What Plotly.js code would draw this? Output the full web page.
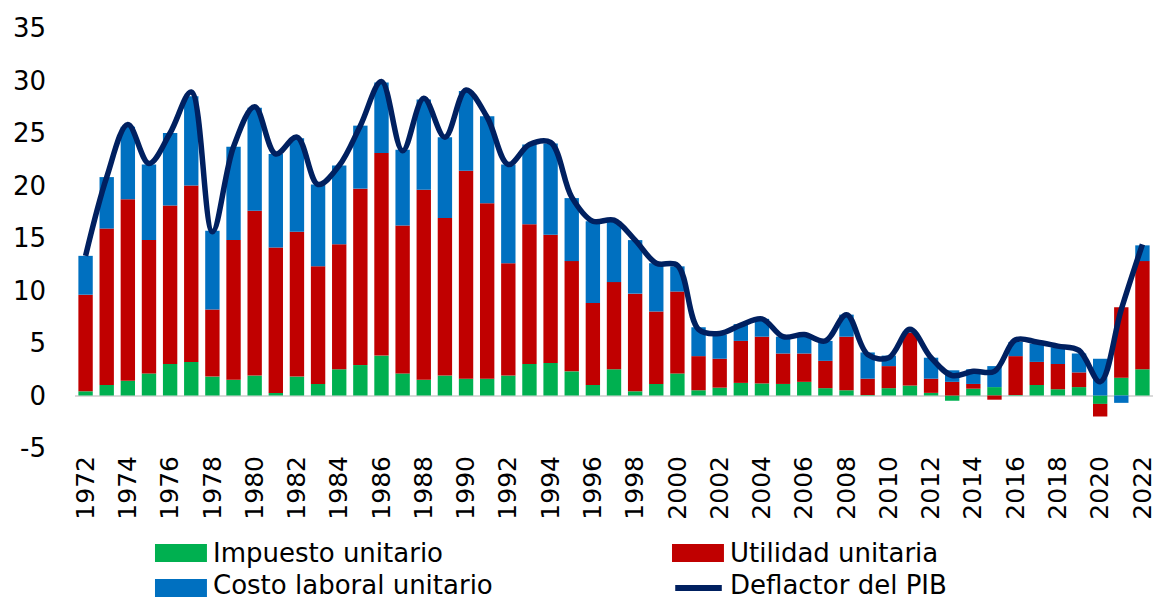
<!DOCTYPE html>
<html>
<head>
<meta charset="utf-8">
<script src="https://cdn.plot.ly/plotly-3.0.1.min.js"></script>
<style>
  html, body { margin: 0; padding: 0; background: #fff; }
  #chart { width: 1156px; height: 600px; }
</style>
</head>
<body>
<div id="chart"></div>
<script>
// Años del periodo
const years = ['1972','1973','1974','1975','1976','1977','1978','1979','1980','1981',
  '1982','1983','1984','1985','1986','1987','1988','1989','1990','1991',
  '1992','1993','1994','1995','1996','1997','1998','1999','2000','2001',
  '2002','2003','2004','2005','2006','2007','2008','2009','2010','2011',
  '2012','2013','2014','2015','2016','2017','2018','2019','2020','2021','2022'];

// Etiquetas del eje horizontal (años pares)
const tickYears = ['1972','1974','1976','1978','1980','1982','1984','1986','1988','1990',
  '1992','1994','1996','1998','2000','2002','2004','2006','2008','2010',
  '2012','2014','2016','2018','2020','2022'];

// Etiquetas del eje vertical
const yTickVals = [-5, 0, 5, 10, 15, 20, 25, 30, 35];
const yTickText = ['-5', '0', '5', '10', '15', '20', '25', '30', '35'];

// Contribuciones (puntos porcentuales)
const impuestoUnitario = [0.4,1.0,1.4,2.1,3.0,3.2,1.8,1.5,1.9,0.25,
  1.8,1.1,2.5,2.9,3.8,2.1,1.5,1.9,1.6,1.6,
  1.9,3.0,3.1,2.3,1.0,2.5,0.4,1.1,2.1,0.5,
  0.75,1.2,1.15,1.1,1.3,0.7,0.5,0.05,0.7,0.95,
  0.25,-0.5,0.65,0.8,0.05,1.0,0.6,0.8,-0.8,1.7,2.5];

const utilidadUnitaria = [9.2,14.9,17.3,12.7,15.1,16.8,6.4,13.3,15.7,13.85,
  13.8,11.2,11.9,16.8,19.3,14.1,18.1,15.0,19.8,16.7,
  10.7,13.3,12.2,10.5,7.8,8.3,9.3,6.9,7.8,3.25,
  2.75,4.0,4.45,2.9,2.7,2.6,5.1,1.55,2.1,5.05,
  1.35,1.3,0.45,-0.4,3.7,2.2,2.4,1.4,-1.2,6.7,10.3];

const costoLaboralUnitario = [3.7,4.9,6.9,7.2,6.9,8.5,7.5,8.9,9.8,8.9,
  8.9,7.8,7.5,6.0,6.7,7.2,8.6,7.7,7.6,8.3,
  9.4,7.6,8.7,6.0,7.8,5.8,5.1,4.6,2.4,2.75,
  2.3,1.6,1.7,1.6,1.8,1.9,2.1,2.5,1.0,0.1,
  2.0,1.1,1.4,2.0,1.35,1.75,1.6,1.8,3.5,-0.7,1.5];

const deflactorPIB = [13.3,20.8,25.8,22.1,25.0,28.9,15.6,23.7,27.5,23.0,
  24.6,20.1,21.9,25.7,29.9,23.3,28.3,24.6,29.1,26.5,
  22.0,23.9,24.1,18.9,16.6,16.7,14.8,12.6,12.4,6.3,
  5.9,6.7,7.3,5.6,5.8,5.2,7.7,3.9,3.6,6.3,
  3.6,1.9,2.3,2.3,5.3,5.1,4.7,4.3,1.3,8.2,14.4];

const seriesNames = ['Impuesto unitario', 'Utilidad unitaria', 'Costo laboral unitario', 'Deflactor del PIB'];
const colors = ['#00B050', '#C00000', '#0070C0', '#002060'];

const barTrace = (vals, i) => ({
  type: 'bar', x: years, y: vals, name: seriesNames[i],
  marker: { color: colors[i], line: { width: 0 } },
  showlegend: false, hoverinfo: 'x+y+name'
});

const data = [
  barTrace(impuestoUnitario, 0),
  barTrace(utilidadUnitaria, 1),
  barTrace(costoLaboralUnitario, 2),
  {
    type: 'scatter', mode: 'lines', x: years, y: deflactorPIB, name: seriesNames[3],
    line: { color: colors[3], width: 5.5, shape: 'spline', smoothing: 1 },
    showlegend: false
  }
];

// Leyenda dibujada a mano: dos columnas, dos filas (coordenadas de papel)
const legendCols = [0.0742, 0.5538];
const swatchRows = [-0.25, -0.3333];
const textRows = [-0.25, -0.325];
const swatchW = 0.0482, swatchH = 0.0214;
const shapes = [];
const annotations = [];
[[0, 0, 0], [1, 0, 1], [2, 1, 0], [3, 1, 1]].forEach(([i, r, c]) => {
  const x0 = legendCols[c], yc = swatchRows[r];
  if (i < 3) {
    shapes.push({ type: 'rect', xref: 'paper', yref: 'paper',
      x0: x0, x1: x0 + swatchW, y0: yc - swatchH, y1: yc + swatchH,
      fillcolor: colors[i], line: { width: 0 } });
  } else {
    shapes.push({ type: 'line', xref: 'paper', yref: 'paper',
      x0: x0 + 0.003, x1: x0 + swatchW - 0.002, y0: yc, y1: yc,
      line: { color: colors[i], width: 6 } });
  }
  annotations.push({ xref: 'paper', yref: 'paper', x: x0 + swatchW + 0.0045, y: textRows[r],
    xanchor: 'left', yanchor: 'middle', showarrow: false, text: seriesNames[i],
    borderpad: 0,
    font: { family: 'DejaVu Sans, Verdana, sans-serif', size: 26, color: '#000' } });
});

const layout = {
  width: 1156, height: 600,
  margin: { l: 75, r: 3, t: 28, b: 152 },
  paper_bgcolor: '#fff', plot_bgcolor: '#fff',
  barmode: 'relative', bargap: 0.32,
  font: { family: 'DejaVu Sans, Verdana, sans-serif', color: '#000' },
  showlegend: false,
  xaxis: {
    type: 'category', tickmode: 'array', tickvals: tickYears, ticktext: tickYears,
    tickangle: -90, tickfont: { size: 25, color: '#000' },
    showgrid: false, showline: false, zeroline: false, ticks: '',
    ticklabelstandoff: 2, range: [-0.5, 50.5]
  },
  yaxis: {
    range: [-5, 35], tickmode: 'array', tickvals: yTickVals, ticktext: yTickText,
    tickfont: { size: 26, color: '#000' },
    showgrid: false, showline: false, ticks: '',
    zeroline: true, zerolinecolor: '#d9d9d9', zerolinewidth: 2,
    ticklabelstandoff: 28
  },
  shapes: shapes,
  annotations: annotations
};

Plotly.newPlot('chart', data, layout, { displayModeBar: false, staticPlot: true });
</script>
</body>
</html>
